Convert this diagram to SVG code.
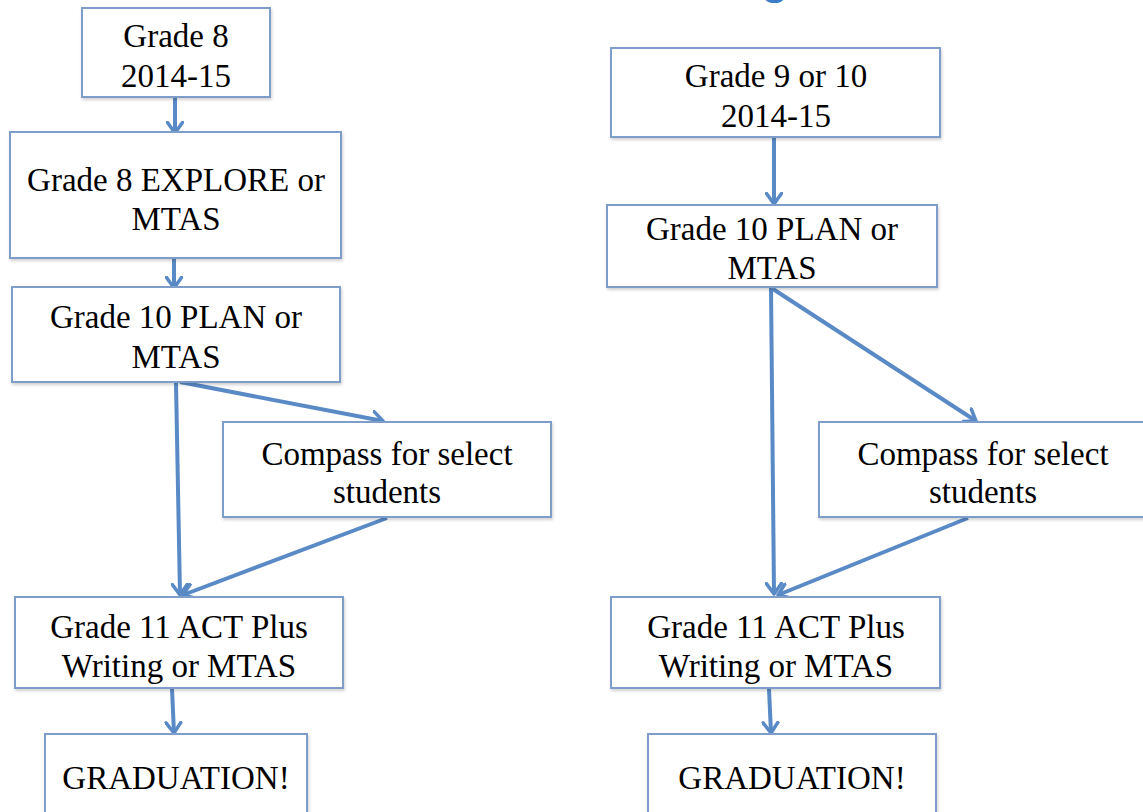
<svg xmlns="http://www.w3.org/2000/svg" width="1143" height="812" viewBox="0 0 1143 812">
<style>
.box{fill:#ffffff;stroke:#7e9ec9;stroke-width:2}
.t{font-family:'Liberation Serif','Times New Roman',Tinos,'DejaVu Serif',serif;font-size:33px;fill:#000;text-anchor:middle}
.c{fill:none;stroke:#5a8ac6;stroke-width:4;marker-end:url(#ah)}
.ttl{font-family:'Liberation Sans',Arial,sans-serif;font-weight:bold;font-size:44px;fill:#3d7cc9;text-anchor:middle}
</style>
<defs>
<marker id="ah" viewBox="0 0 14 18" refX="12" refY="9" markerWidth="14" markerHeight="18" markerUnits="userSpaceOnUse" orient="auto">
<path d="M1.5,1.5 L12,9 L1.5,16.5" fill="none" stroke="#5a8ac6" stroke-width="3.5" stroke-linejoin="round" stroke-linecap="round"/>
</marker>
<filter id="sh" x="-5%" y="-5%" width="110%" height="115%">
<feDropShadow dx="1" dy="2" stdDeviation="1.5" flood-color="#000" flood-opacity="0.18"/>
</filter>
</defs>
<rect width="1143" height="812" fill="#ffffff"/>
<text class="ttl" x="775" y="-6">g</text>
<g id="connectors">
<line class="c" x1="175" y1="98" x2="175" y2="133"/>
<line class="c" x1="174" y1="259" x2="174" y2="288"/>
<line class="c" x1="176" y1="383" x2="180" y2="595"/>
<line class="c" x1="180" y1="382" x2="383" y2="421"/>
<line class="c" x1="387" y1="518" x2="183" y2="595"/>
<line class="c" x1="172" y1="689" x2="174" y2="733"/>
<line class="c" x1="774" y1="138" x2="774" y2="204"/>
<line class="c" x1="771" y1="288" x2="774" y2="594"/>
<line class="c" x1="773" y1="289" x2="976" y2="421"/>
<line class="c" x1="968" y1="518" x2="778" y2="595"/>
<line class="c" x1="769" y1="689" x2="771" y2="733"/>
</g>
<g id="l1"><rect class="box" filter="url(#sh)" x="82" y="8" width="188" height="89"/><text class="t" font-family="Liberation Serif, serif" x="176" y="47">Grade 8</text><text class="t" font-family="Liberation Serif, serif" x="176" y="87">2014-15</text></g>
<g id="l2"><rect class="box" filter="url(#sh)" x="10" y="132" width="331" height="126"/><text class="t" x="176" y="191">Grade 8 EXPLORE or</text><text class="t" x="176" y="230">MTAS</text></g>
<g id="l3"><rect class="box" filter="url(#sh)" x="12" y="287" width="328" height="95"/><text class="t" x="176" y="328">Grade 10 PLAN or</text><text class="t" x="176" y="368">MTAS</text></g>
<g id="l4"><rect class="box" filter="url(#sh)" x="223" y="422" width="328" height="95"/><text class="t" x="387" y="465">Compass for select</text><text class="t" x="387" y="503">students</text></g>
<g id="l5"><rect class="box" filter="url(#sh)" x="15" y="597" width="328" height="91"/><text class="t" x="179" y="638">Grade 11 ACT Plus</text><text class="t" x="179" y="677">Writing or MTAS</text></g>
<g id="l6"><rect class="box" filter="url(#sh)" x="45" y="734" width="262" height="100"/><text class="t" x="176" y="789">GRADUATION!</text></g>
<g id="r1"><rect class="box" filter="url(#sh)" x="611" y="48" width="329" height="89"/><text class="t" x="776" y="87">Grade 9 or 10</text><text class="t" x="776" y="127">2014-15</text></g>
<g id="r2"><rect class="box" filter="url(#sh)" x="607" y="205" width="330" height="82"/><text class="t" x="772" y="240">Grade 10 PLAN or</text><text class="t" x="772" y="279">MTAS</text></g>
<g id="r3"><rect class="box" filter="url(#sh)" x="819" y="422" width="340" height="95"/><text class="t" x="983" y="465">Compass for select</text><text class="t" x="983" y="503">students</text></g>
<g id="r4"><rect class="box" filter="url(#sh)" x="611" y="597" width="329" height="91"/><text class="t" x="776" y="638">Grade 11 ACT Plus</text><text class="t" x="776" y="677">Writing or MTAS</text></g>
<g id="r5"><rect class="box" filter="url(#sh)" x="648" y="734" width="288" height="100"/><text class="t" x="792" y="789">GRADUATION!</text></g>
</svg>
